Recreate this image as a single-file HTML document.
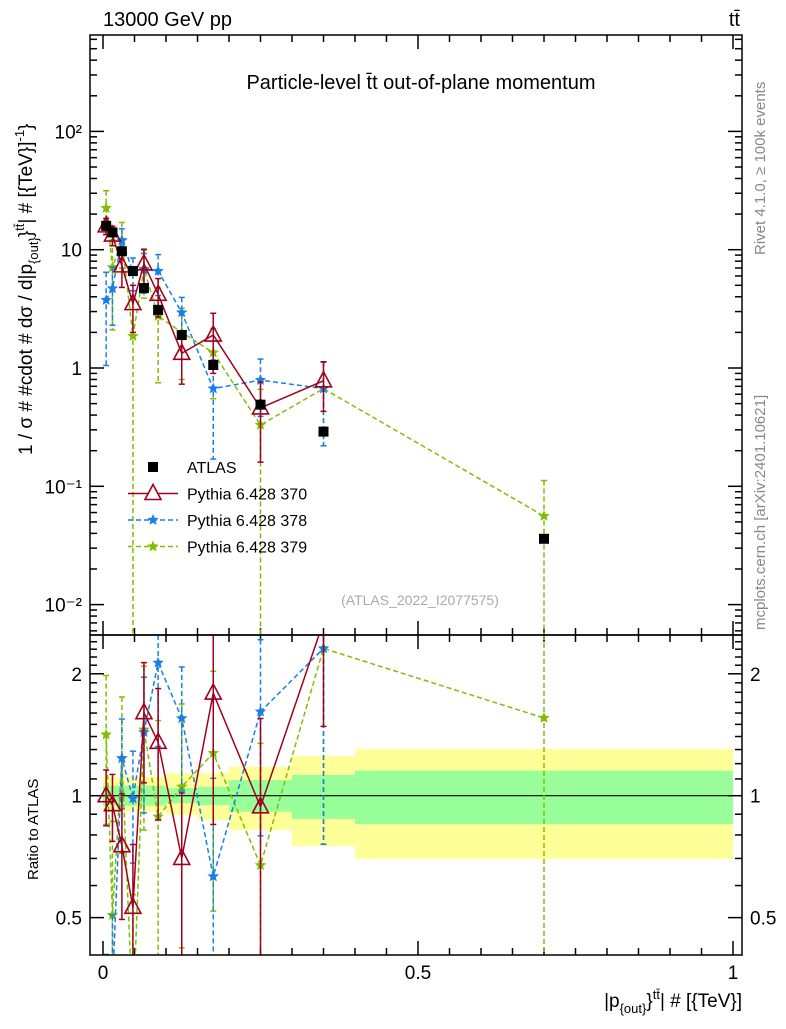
<!DOCTYPE html>
<html><head><meta charset="utf-8"><style>
body{margin:0;background:#fff}
svg text{font-family:"Liberation Sans",sans-serif}
</style></head><body>
<svg id="c" width="786" height="1024" xmlns="http://www.w3.org/2000/svg">
<g id="bands"></g>
<g id="axes"></g>
<g id="marks"></g>
<rect x="90" y="35" width="652" height="600" fill="none" stroke="#000" stroke-width="1.5"/>
<rect x="90" y="635" width="652" height="320" fill="none" stroke="#000" stroke-width="1.5"/>
<text x="103" y="26" font-size="20">13000 GeV pp</text>
<text x="740" y="26" font-size="20" text-anchor="end">tt̄</text>
<text x="421" y="89" font-size="20" text-anchor="middle">Particle-level t̄t out-of-plane momentum</text>
<text x="420" y="605" font-size="14" fill="#aaa" text-anchor="middle">(ATLAS_2022_I2077575)</text>
<text transform="translate(765,255) rotate(-90)" font-size="15" fill="#888">Rivet 4.1.0, ≥ 100k events</text>
<text transform="translate(765,630) rotate(-90)" font-size="15" fill="#888">mcplots.cern.ch [arXiv:2401.10621]</text>
<text transform="translate(32,455) rotate(-90)" font-size="19">1 / σ # #cdot # dσ / d|p<tspan font-size="13" dy="6">{out}</tspan><tspan dy="-6">}</tspan><tspan font-size="13" dy="-8">tt̄</tspan><tspan dy="8">| # [{TeV}]</tspan><tspan font-size="13" dy="-8">-1</tspan><tspan dy="8">}</tspan></text>
<text transform="translate(38,880) rotate(-90)" font-size="15">Ratio to ATLAS</text>
<text x="742" y="1007" font-size="19" text-anchor="end">|p<tspan font-size="13" dy="6">{out}</tspan><tspan dy="-6">}</tspan><tspan font-size="13" dy="-8">tt̄</tspan><tspan dy="8">| # [{TeV}]</tspan></text>
<g id="legend"></g>
</svg>
<script>
const binCenters=[0.005,0.015,0.03,0.0475,0.065,0.0875,0.125,0.175,0.25,0.35,0.7];
const atlasVals=[15.9,14,9.7,6.6,4.74,3.1,1.9,1.06,0.49,0.29,0.036];
const p370Vals=[15.9,13.3,7.3,3.5,7.6,4.2,1.33,1.9,0.46,0.78];
const p370Err=[2.5,2.5,2.5,1.5,2.5,1.5,0.6,1.0,0.3,0.35];
const p378Vals=[3.75,4.7,12,6.5,6.8,6.6,2.95,0.67,0.79,0.67];
const p378Err=[2.7,2.4,3,2,2.5,2.5,1.0,0.5,0.4,0.45];
const p379Vals=[22.5,7.1,12,1.86,6.9,2.75,2.0,1.35,0.33,0.67,0.056];
const p379Err=[9,5,5,1.9,3,2,1.2,0.8,0.33,0.45,0.056];
const bandEdges=[0,0.1,0.15,0.2,0.3,0.4,1.0];
const yellowUp=[1.114,1.136,1.136,1.179,1.253,1.305];
const yellowDn=[0.913,0.896,0.871,0.823,0.751,0.698];
const greenUp=[1.058,1.043,1.053,1.093,1.125,1.153];
const greenDn=[0.945,0.958,0.948,0.913,0.876,0.850];
const xTickLabels=["0","0.5","1"];
const yTickLabels=["10⁻²","10⁻¹","1","10","10²"];

const NS="http://www.w3.org/2000/svg";
const X=v=>103+v*630;
const Y=v=>368-Math.log10(v)*118.3;
const R=v=>795.7-Math.log10(v)*405;
const clampM=y=>Math.max(35,Math.min(635,y));
const clampR=y=>Math.max(635,Math.min(955,y));
function el(t,a,p){const e=document.createElementNS(NS,t);for(const k in a)e.setAttribute(k,a[k]);(p||document.getElementById('marks')).appendChild(e);return e;}
const axes=document.getElementById('axes');
// x ticks
for(let i=0;i<=20;i++){const v=i*0.05,x=X(v),L=i%10==0?14:7;
 for(const [y0,d] of [[635,-1],[35,1],[955,-1],[635,1]]){const t=el('line',{x1:x,x2:x,y1:y0,y2:y0+d*L,stroke:'#000','stroke-width':1.5},axes);
 }
 if(i%10==0){const t=el('text',{x:x,y:979,'font-size':19,'text-anchor':'middle'},axes);t.textContent=xTickLabels[i/10];
 }}
// main y ticks
for(let e=-3;e<=2;e++)for(let m=1;m<10;m++){const v=m*Math.pow(10,e),y=Y(v);if(y<35||y>635)continue;const L=m==1?14:7;
 for(const [x0,d] of [[90,1],[742,-1]]){const t=el('line',{x1:x0,x2:x0+d*L,y1:y,y2:y,stroke:'#000','stroke-width':1.5},axes);
 }
 if(m==1){const t=el('text',{x:82,y:y+7,'font-size':19,'text-anchor':'end'},axes);t.textContent=yTickLabels[e+2];
 }}
// ratio ticks
for(let k=4;k<=25;k++){const v=k/10,y=R(v);if(y<635||y>955)continue;const maj=(k==5||k==10||k==20);const L=maj?14:7;
 for(const [x0,d] of [[90,1],[742,-1]]){const t=el('line',{x1:x0,x2:x0+d*L,y1:y,y2:y,stroke:'#000','stroke-width':1.5},axes);
 }
 if(maj){for(const [x0,a] of [[82,'end'],[750,'start']]){const t=el('text',{x:x0,y:y+7,'font-size':19,'text-anchor':a},axes);t.textContent=String(v);
 }}}
// bands
const bands=document.getElementById('bands');
for(let i=0;i<bandEdges.length-1;i++){const x0=X(bandEdges[i]),w=X(bandEdges[i+1])-x0;
 const a=el('rect',{x:x0,y:R(yellowUp[i]),width:w,height:R(yellowDn[i])-R(yellowUp[i]),fill:'#ffff99'},bands);
 
 const b=el('rect',{x:x0,y:R(greenUp[i]),width:w,height:R(greenDn[i])-R(greenUp[i]),fill:'#99ff99'},bands);
 }
const ln=el('line',{x1:90,x2:742,y1:R(1),y2:R(1),stroke:'#000','stroke-width':1.2},bands);


function star(cx,cy,r,col,name){let p=[];for(let i=0;i<10;i++){const a=-Math.PI/2+i*Math.PI/5,rr=i%2?r*0.45:r;p.push((cx+rr*Math.cos(a)).toFixed(1)+','+(cy+rr*Math.sin(a)).toFixed(1));}
 const s=el('polygon',{points:p.join(' '),fill:col});return s;}
function tri(cx,cy,col,name){const s=el('polygon',{points:`${cx},${cy-9} ${cx-8},${cy+6} ${cx+8},${cy+6}`,fill:'none',stroke:col,'stroke-width':1.6});
 }
function series(vals,errs,col,dash,kind,name){
 const n=vals.length;let pm=[],pr=[];
 for(let i=0;i<n;i++){const x=X(binCenters[i]);pm.push(x+','+Y(vals[i]).toFixed(1));pr.push(x+','+R(vals[i]/atlasVals[i]).toFixed(1));}
 for(const [pts,name2] of [[pm,'-line'],[pr,'-ratio-line']]){const clip=name2=='-line'?'url(#cm)':'url(#cr)';
  const l=el('polyline',{points:pts.join(' '),fill:'none',stroke:col,'stroke-width':1.5,'stroke-dasharray':dash,'clip-path':clip});
  }
 for(let i=0;i<n;i++){const x=X(binCenters[i]),v=vals[i],e=errs[i],lo=v-e,hi=v+e,r=atlasVals[i];
  const segs=[[clampM(Y(hi)),lo>0?clampM(Y(lo)):635,true],[clampR(R(hi/r)),lo>0?clampR(R(lo/r)):955,false]];
  for(const [y1,y2] of segs){const b=el('line',{x1:x,x2:x,y1:y1,y2:y2,stroke:col,'stroke-width':1.5,'stroke-dasharray':dash});
   
   for(const yy of [y1,y2]){if(yy==635||yy==955||yy==35)continue;const c=el('line',{x1:x-3,x2:x+3,y1:yy,y2:yy,stroke:col,'stroke-width':1.5});
    }}
  const ym=Y(v),yr=R(v/r);
  if(kind=='tri'){tri(x,ym,col,name+'-point');if(yr>=635&&yr<=955)tri(x,yr,col,name+'-ratio-point');}
  else{star(x,ym,6,col,name+'-point');if(yr>=635&&yr<=955)star(x,yr,6,col,name+'-ratio-point');}}}
const defs=el('defs',{},document.getElementById('c'));
const c1=el('clipPath',{id:'cm'},defs);el('rect',{x:90,y:35,width:652,height:600},c1);
const c2=el('clipPath',{id:'cr'},defs);el('rect',{x:90,y:635,width:652,height:320},c2);
series(p379Vals,p379Err,'#7fbf00','5,3','star','pythia-379');
series(p378Vals,p378Err,'#1a7fe6','5,3','star','pythia-378');
series(p370Vals,p370Err,'#a0001e','none','tri','pythia-370');
for(let i=0;i<atlasVals.length;i++){const s=el('rect',{x:X(binCenters[i])-5,y:Y(atlasVals[i])-5,width:10,height:10,fill:'#000'});
 }
// legend
const lg=document.getElementById('legend');
const items=[['ATLAS','sq','#000','none'],['Pythia 6.428 370','tri','#a0001e','none'],['Pythia 6.428 378','star','#1a7fe6','5,3'],['Pythia 6.428 379','star','#7fbf00','5,3']];
items.forEach((it,i)=>{const y=467+i*26.5;
 if(it[1]!='sq'){const l=el('line',{x1:128,x2:178,y1:y,y2:y,stroke:it[2],'stroke-width':1.5,'stroke-dasharray':it[3]},lg);}
 if(it[1]=='sq'){const s=el('rect',{x:148,y:y-5,width:10,height:10,fill:'#000'},lg);}
 else if(it[1]=='tri'){const s=el('polygon',{points:`153,${y-9} 145,${y+6} 161,${y+6}`,fill:'#fff',stroke:it[2],'stroke-width':1.6},lg);}
 else{const s=star(153,y,6,it[2],'legend-marker');lg.appendChild(s);}
 const t=el('text',{x:187,y:y+6,'font-size':16},lg);t.textContent=it[0];});
</script>
</body></html>
